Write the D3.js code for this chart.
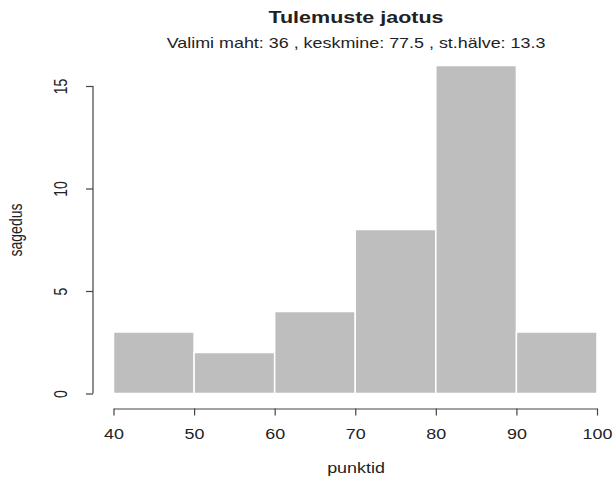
<!DOCTYPE html>
<html>
<head>
<meta charset="utf-8">
<script src="https://cdn.jsdelivr.net/npm/d3@7"></script>
<style>
  html, body { margin: 0; padding: 0; background: #fff; }
  svg { display: block; }
  text { font-family: "Liberation Sans", Arial, Helvetica, sans-serif; fill: #222; }
</style>
</head>
<body>
<svg id="chart" width="614" height="477"></svg>
<script>
// ---- data ----
const binStarts = [40, 50, 60, 70, 80, 90];
const binEnds   = [50, 60, 70, 80, 90, 100];
const counts    = [3, 2, 4, 8, 16, 3];
const xTicks    = [40, 50, 60, 70, 80, 90, 100];
const yTicks    = [0, 5, 10, 15];
const titleText = "Tulemuste jaotus";
const subtitleText = "Valimi maht: 36 , keskmine: 77.5 , st.hälve: 13.3";
const xLabel = "punktid";
const yLabel = "sagedus";

// ---- layout ----
const SX = 1.28; // horizontal stretch of the original image
const svg = d3.select("#chart");
const x = d3.scaleLinear().domain([40, 100]).range([113.5, 597]);
const y = d3.scaleLinear().domain([0, 16]).range([393.5, 65.5]);
const axisColor = "#444";

// bars
svg.append("g").selectAll("rect")
  .data(counts)
  .join("rect")
  .attr("x", (d, i) => x(binStarts[i]))
  .attr("width", (d, i) => x(binEnds[i]) - x(binStarts[i]))
  .attr("y", d => y(d))
  .attr("height", d => y(0) - y(d))
  .attr("fill", "#bebebe")
  .attr("stroke", "#ffffff")
  .attr("stroke-width", 1.5);

// x axis
const xg = svg.append("g")
  .attr("transform", "translate(0,408.5)")
  .call(d3.axisBottom(x).tickValues(xTicks).tickSize(7).tickSizeOuter(0).tickPadding(14).tickFormat(d3.format("d")));
xg.select(".domain").attr("stroke", axisColor).attr("stroke-width", 1.2);
xg.selectAll(".tick line").attr("stroke", axisColor).attr("stroke-width", 1.2);
xg.selectAll(".tick text")
  .attr("font-size", 14)
  .attr("font-family", "Liberation Sans, Arial, sans-serif")
  .attr("fill", "#222")
  .attr("transform", `scale(${SX},1)`);

// y axis
const yg = svg.append("g")
  .attr("transform", "translate(93,0)")
  .call(d3.axisLeft(y).tickValues(yTicks).tickSize(7).tickFormat(d3.format("d")));
yg.select(".domain").remove();
yg.append("line")
  .attr("x1", 0).attr("x2", 0)
  .attr("y1", y(0)).attr("y2", y(15))
  .attr("stroke", axisColor).attr("stroke-width", 1.2);
yg.selectAll(".tick line").attr("stroke", axisColor).attr("stroke-width", 1.2);
yg.selectAll(".tick text")
  .attr("x", null).attr("dy", null).attr("y", 0)
  .attr("font-size", 14)
  .attr("font-family", "Liberation Sans, Arial, sans-serif")
  .attr("fill", "#222")
  .attr("text-anchor", "middle")
  .attr("transform", `translate(-26.3,0) scale(${SX},1) rotate(-90)`);

// title
svg.append("text")
  .attr("transform", `translate(356,23) scale(${SX},1)`)
  .attr("text-anchor", "middle")
  .attr("font-size", 16.8)
  .attr("font-weight", "bold")
  .attr("fill", "#111")
  .text(titleText);

svg.append("text")
  .attr("transform", `translate(356,48) scale(${SX},1)`)
  .attr("text-anchor", "middle")
  .attr("font-size", 14)
  .text(subtitleText);

// axis labels
svg.append("text")
  .attr("transform", `translate(356,473) scale(${SX},1)`)
  .attr("text-anchor", "middle")
  .attr("font-size", 14)
  .text(xLabel);

svg.append("text")
  .attr("transform", `translate(22,230) scale(${SX},1) rotate(-90)`)
  .attr("text-anchor", "middle")
  .attr("font-size", 14)
  .text(yLabel);
</script>
</body>
</html>
